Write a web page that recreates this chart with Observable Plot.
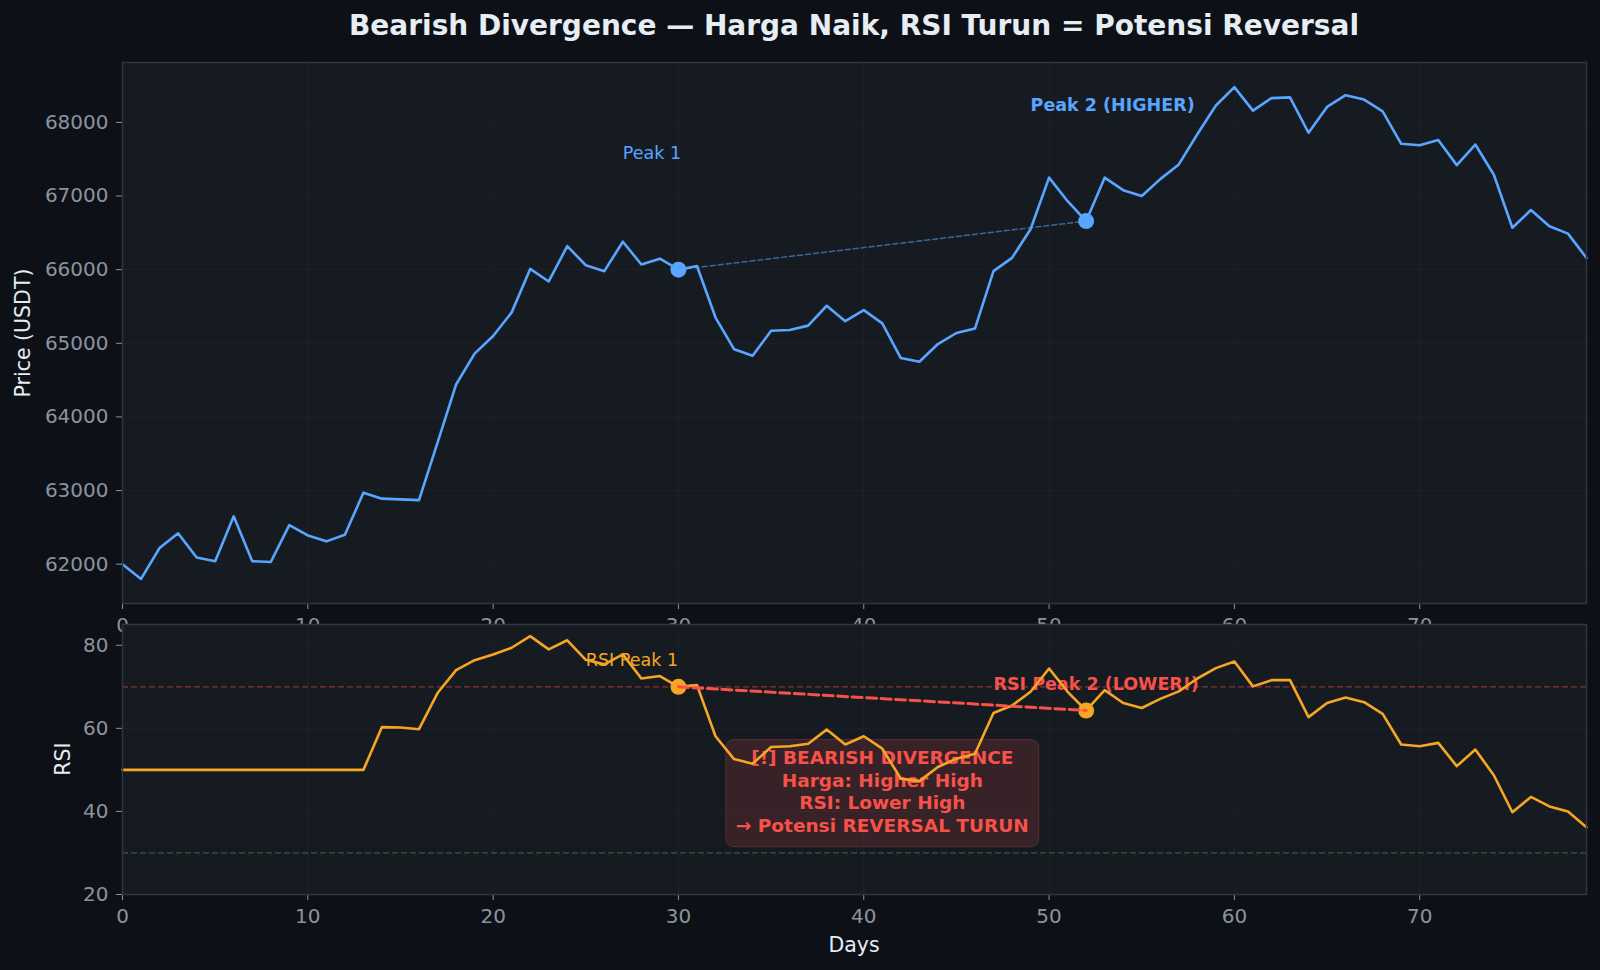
<!DOCTYPE html>
<html>
<head>
<meta charset="utf-8">
<script src="https://cdn.jsdelivr.net/npm/d3@7"></script>
<script src="https://cdn.jsdelivr.net/npm/@observablehq/plot@0.6"></script>
<style>
  html, body { margin: 0; padding: 0; background: #0d1117; }
  #chart { position: relative; width: 1600px; height: 970px; background: #0d1117; overflow: hidden;
           font-family: "DejaVu Sans", sans-serif; }
  #chart svg { position: absolute; left: 0; top: 0; }
  .txt { position: absolute; white-space: nowrap; line-height: 1; color: #e6edf3; }
  .title { left: 122px; width: 1464px; text-align: center; top: 11.5px; font-size: 28px; font-weight: bold; }
  .ylab { transform: translate(-50%, -50%) rotate(-90deg); font-size: 20.5px; }
  .xlab { transform: translate(-50%, -50%); font-size: 20.5px; }
</style>
</head>
<body>
<div id="chart"></div>
<script>
// Daily closing price (USDT) and RSI, days 0..79
const price = [
  62000, 61800, 62220, 62420, 62090, 62040, 62650, 62040, 62030, 62530,
  62390, 62310, 62400, 62970, 62890, 62880, 62870, 63650, 64440, 64860,
  65100, 65420, 66010, 65840, 66320, 66060, 65980, 66380, 66070, 66150,
  66000, 66050, 65350, 64920, 64830, 65170, 65180, 65240, 65510, 65300,
  65450, 65270, 64800, 64750, 64990, 65140, 65200, 65980, 66160, 66550,
  67250, 66930, 66660, 67250, 67080, 67000, 67230, 67430, 67840, 68230,
  68480, 68160, 68330, 68340, 67860, 68210, 68370, 68310, 68150, 67710,
  67690, 67760, 67420, 67700, 67290, 66570, 66810, 66590, 66490, 66160
];
const rsi = [
  50, 50, 50, 50, 50, 50, 50, 50, 50, 50,
  50, 50, 50, 50, 60.3, 60.2, 59.8, 68.5, 74.0, 76.4,
  77.8, 79.4, 82.2, 79.0, 81.2, 76.5, 75.4, 77.8, 72.0, 72.6,
  70.0, 70.4, 58.1, 52.6, 51.5, 55.5, 55.7, 56.3, 59.7, 56.1,
  58.1, 55.1, 47.9, 47.3, 50.7, 52.7, 53.9, 63.7, 65.5, 68.8,
  74.4, 68.8, 64.3, 69.2, 66.1, 64.9, 67.1, 68.9, 72.0, 74.5,
  76.1, 70.1, 71.6, 71.6, 62.7, 66.1, 67.4, 66.3, 63.5, 56.1,
  55.7, 56.5, 50.9, 54.9, 48.7, 39.8, 43.5, 41.2, 40.0, 36.2
];

const dayTicks = [0, 10, 20, 30, 40, 50, 60, 70];
const priceTicks = [62000, 63000, 64000, 65000, 66000, 67000, 68000];
const rsiTicks = [20, 40, 60, 80];
const rsiRange = [20, 85];
const overbought = [70];
const oversold = [30];

const peakDays = [30, 52];
const priceLabels = ["Peak 1", "Peak 2 (HIGHER)"];
const rsiLabels = ["RSI Peak 1", "RSI Peak 2 (LOWER!)"];
const noteLines = ["[!] BEARISH DIVERGENCE", "Harga: Higher High", "RSI: Lower High", "→ Potensi REVERSAL TURUN"];
const noteAnchor = [{day: 41, rsi: 45}];

const titleText = "Bearish Divergence — Harga Naik, RSI Turun = Potensi Reversal";

// palette
const AX_BG = "#161b22", SPINE = "#30363d", TICK = "#8b949e";
const BLUE = "#58a6ff", ORANGE = "#f5a623", RED = "#f85149", GREEN = "#3fb950";
const FONT = "DejaVu Sans, sans-serif";

const rows = price.map((p, i) => ({day: i, price: p, rsi: rsi[i]}));
const peaks = peakDays.map(d => rows[d]);
const [pMin, pMax] = d3.extent(price);
const pPad = (pMax - pMin) * 0.05;
const dayDomain = [0, rows.length - 1];

const W = 1600, H = 970;
const svgStyle = {background: "transparent", color: TICK, fontFamily: FONT, fontSize: "20px", overflow: "visible"};
const axisOpts = {tickSize: 6, tickPadding: 8, label: null};
const gridOpts = {stroke: SPINE, strokeOpacity: 0.25, strokeWidth: 1};
const baselineShift = fs => -0.32 * fs;   // put the baseline on the anchor point

const pricePlot = Plot.plot({
  width: W, height: H,
  marginLeft: 122, marginRight: 14, marginTop: 62, marginBottom: H - 603,
  style: svgStyle,
  x: {domain: dayDomain},
  y: {domain: [pMin - pPad, pMax + pPad]},
  marks: [
    Plot.frame({fill: AX_BG}),
    Plot.gridX(dayTicks, gridOpts),
    Plot.gridY(priceTicks, gridOpts),
    Plot.axisX(dayTicks, axisOpts),
    Plot.axisY(priceTicks, {...axisOpts, tickFormat: d3.format("d")}),
    Plot.text([peaks[0]], {x: d => d.day - 3, y: d => d.price + 1500, text: () => priceLabels[0],
      fill: BLUE, fontSize: 17.5, textAnchor: "start", dy: baselineShift(17.5)}),
    Plot.text([peaks[1]], {x: d => d.day - 3, y: d => d.price + 1500, text: () => priceLabels[1],
      fill: BLUE, fontSize: 17.5, fontWeight: "bold", textAnchor: "start", dy: baselineShift(17.5)}),
    Plot.line(peaks, {x: "day", y: "price", stroke: BLUE, strokeOpacity: 0.55, strokeWidth: 1.5, strokeDasharray: "5,3"}),
    Plot.line(rows, {x: "day", y: "price", stroke: BLUE, strokeWidth: 2.6}),
    Plot.dot(peaks, {x: "day", y: "price", r: 8, fill: BLUE}),
    Plot.frame({stroke: SPINE, strokeWidth: 1.5})
  ]
});

const rsiPlot = Plot.plot({
  width: W, height: H,
  marginLeft: 122, marginRight: 14, marginTop: 624, marginBottom: H - 894,
  style: svgStyle,
  x: {domain: dayDomain},
  y: {domain: rsiRange},
  marks: [
    Plot.frame({fill: AX_BG}),
    Plot.gridX(dayTicks, gridOpts),
    Plot.gridY(rsiTicks, gridOpts),
    Plot.axisX(dayTicks, axisOpts),
    Plot.axisY(rsiTicks, axisOpts),
    Plot.ruleY(overbought, {stroke: RED, strokeOpacity: 0.5, strokeWidth: 1.3, strokeDasharray: "6,3"}),
    Plot.ruleY(oversold, {stroke: GREEN, strokeOpacity: 0.45, strokeWidth: 1.3, strokeDasharray: "6,3"}),
    Plot.text(noteAnchor, {x: "day", y: "rsi", text: () => noteLines.join("\n"),
      fill: RED, fontSize: 18.5, fontWeight: "bold", lineHeight: 1.22, textAnchor: "middle"}),
    Plot.text([peaks[0]], {x: d => d.day - 5, y: d => d.rsi + 5, text: () => rsiLabels[0],
      fill: ORANGE, fontSize: 17.5, textAnchor: "start", dy: baselineShift(17.5)}),
    Plot.text([peaks[1]], {x: d => d.day - 5, y: d => d.rsi + 5, text: () => rsiLabels[1],
      fill: RED, fontSize: 17.5, fontWeight: "bold", textAnchor: "start", dy: baselineShift(17.5)}),
    Plot.line(rows, {x: "day", y: "rsi", stroke: ORANGE, strokeWidth: 2.6}),
    Plot.dot(peaks, {x: "day", y: "rsi", r: 8, fill: ORANGE}),
    Plot.line(peaks, {x: "day", y: "rsi", stroke: RED, strokeWidth: 3, strokeDasharray: "10,4.5"}),
    Plot.frame({stroke: SPINE, strokeWidth: 1.5})
  ]
});

const chart = document.getElementById("chart");
chart.append(pricePlot, rsiPlot);

// rounded backdrop behind the divergence note
const noteText = Array.from(rsiPlot.querySelectorAll("text"))
  .find(t => t.textContent.includes(noteLines[0]));
if (noteText) {
  const bb = noteText.getBBox();
  const box = document.createElementNS("http://www.w3.org/2000/svg", "rect");
  box.setAttribute("x", bb.x - 10);
  box.setAttribute("y", bb.y - 7.5);
  box.setAttribute("width", bb.width + 20);
  box.setAttribute("height", bb.height + 18.5);
  box.setAttribute("rx", 8);
  box.setAttribute("fill", RED);
  box.setAttribute("fill-opacity", 0.15);
  box.setAttribute("stroke", RED);
  box.setAttribute("stroke-opacity", 0.25);
  const tr = noteText.getAttribute("transform");
  if (tr) box.setAttribute("transform", tr);
  noteText.parentNode.insertBefore(box, noteText);
}

function addText(cls, text, styles) {
  const el = document.createElement("div");
  el.className = "txt " + cls;
  el.textContent = text;
  Object.assign(el.style, styles || {});
  chart.appendChild(el);
}
addText("title", titleText);
addText("ylab", "Price (USDT)", {left: "22.5px", top: "333px"});
addText("ylab", "RSI", {left: "63px", top: "759px"});
addText("xlab", "Days", {left: "854px", top: "945px"});
</script>
</body>
</html>
